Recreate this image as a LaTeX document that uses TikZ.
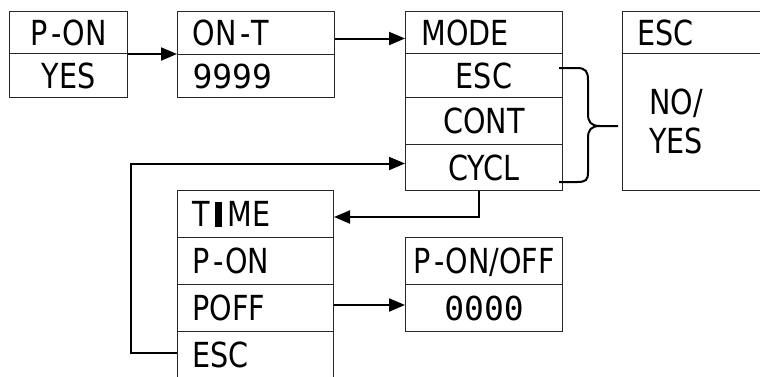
\documentclass[tikz,border=0pt]{standalone}
\usepackage{fontspec}
\setmainfont{DejaVu Sans}[FakeStretch=0.83]
\newfontfamily\segfont{DejaVu Sans Mono}
\usetikzlibrary{arrows.meta}
\newcommand{\hy}{\kern4pt-\kern1pt}
\begin{document}
\begin{tikzpicture}[x=1pt,y=-1pt,
  cell/.style={draw=black!85, line width=1pt, rectangle, anchor=north west,
    inner ysep=0pt, font=\fontsize{34.5}{37}\selectfont, text depth=0pt},
  lcell/.style={cell, align=left, inner xsep=#1},
  seg/.style={font=\fontsize{33}{36}\segfont},
  arr/.style={line width=2pt, -{Triangle[length=16pt,width=13pt]}},
  brace/.style={line width=2pt},
]
\useasboundingbox (0,0) rectangle (760,376);
\clip (0,0) rectangle (760,376);
% box 1
\node[cell, minimum width=118pt, minimum height=42pt] (p1) at (9,11) {P\hy ON};
\node[cell, minimum width=118pt, minimum height=44pt] (p2) at (9,53) {YES};
% box 2
\node[lcell=15pt, text width=127pt, minimum height=43pt] (o1) at (177,11) {ON\hy T};
\node[lcell=15pt, text width=127pt, minimum height=43pt, seg] (o2) at (177,54) {9999};
% MODE box
\node[lcell=16pt, text width=125pt, minimum height=42pt] (m1) at (405,11) {MODE};
\node[cell, minimum width=157pt, minimum height=44pt] (m2) at (405,53) {ESC};
\node[cell, minimum width=157pt, minimum height=47pt] (m3) at (405,97) {CONT};
\node[cell, minimum width=157pt, minimum height=46pt] (m4) at (405,144) {CYCL};
% ESC box
\node[lcell=15pt, text width=120pt, minimum height=42pt] (e1) at (622,11) {ESC};
\node[cell, minimum width=150pt, minimum height=137pt] (e2) at (622,53) {};
\node[font=\fontsize{34.5}{39}\selectfont, align=center, inner sep=0pt] (nys) at (676,121.5) {NO/\\YES};
% TIME box
\node[lcell=15pt, text width=126pt, minimum height=47pt] (t1) at (177,190)
  {T\hspace{5pt}\rule{7.5pt}{25pt}\hspace{5pt}ME};
\node[lcell=15pt, text width=126pt, minimum height=47pt] (t2) at (177,237) {P\hy ON};
\node[lcell=15pt, text width=126pt, minimum height=47pt] (t3) at (177,284) {POFF};
\node[lcell=15pt, text width=126pt, minimum height=47pt] (t4) at (177,331) {ESC};
% P-ON/OFF box
\node[cell, inner xsep=1pt, minimum width=157pt, minimum height=47pt] (q1) at (405,237) {P\hy ON/OFF};
\node[cell, minimum width=157pt, minimum height=47pt, seg] (q2) at (405,284) {0000};
% connectors
\draw[arr] (p1.south east) -- (p1.south east -| o1.west);
\draw[arr] ([yshift=-5.5pt]o1.east) -- ([yshift=-5.5pt]o1.east -| m1.west);
\draw[arr] ([xshift=-5.5pt]m4.south) |- ([yshift=-3pt]t1.east);
\draw[arr] ([yshift=3pt]t3.east) -- ([yshift=3pt]t3.east -| q2.west);
\coordinate (lp) at (131,0);
\draw[arr, line join=miter]
  ([yshift=2pt]t4.west) -- ([yshift=2pt]t4.west -| lp) |- ([yshift=4pt]m4.west);
% brace
\draw[brace] (559,68) -- (577,68) .. controls (586,68) and (588,72) .. (588,80)
  -- (588,114) .. controls (588,122) and (591,126) .. (600,126) -- (618,126);
\draw[brace] (600,126) .. controls (591,126) and (588,130) .. (588,138)
  -- (588,172) .. controls (588,180) and (586,182) .. (577,182) -- (559,182);
\end{tikzpicture}
\end{document}
